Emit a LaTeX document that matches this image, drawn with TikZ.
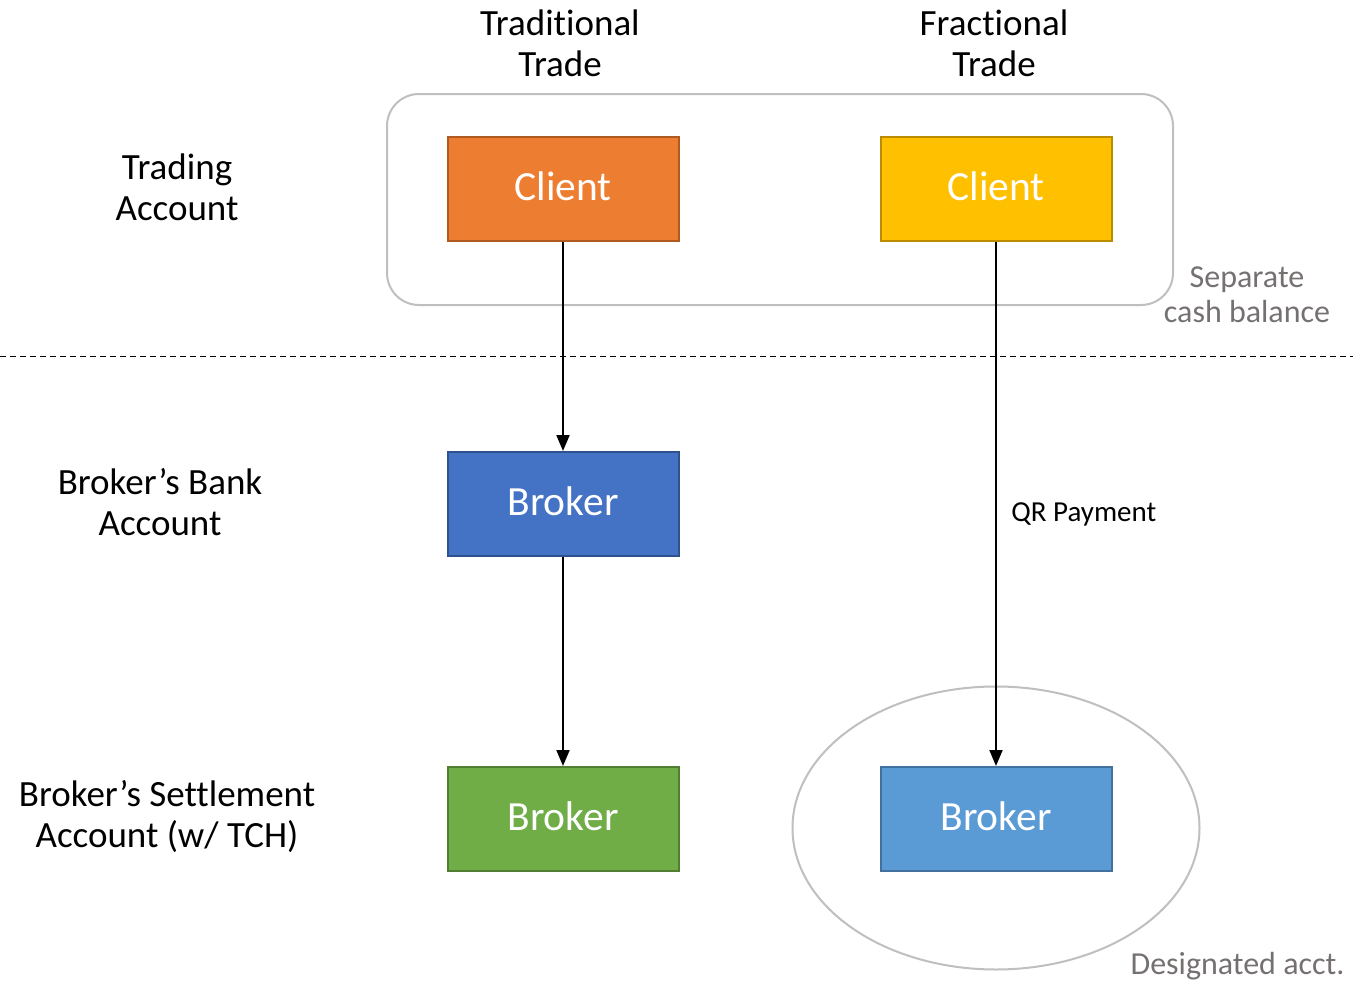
\documentclass[tikz,border=0pt]{standalone}
\usepackage{fontspec}
\setmainfont[Ligatures={NoCommon,NoRare}]{Carlito}
\usetikzlibrary{arrows.meta,shapes.geometric}

\definecolor{clientorange}{HTML}{ED7D31}
\definecolor{clientorangeline}{HTML}{AE5A21}
\definecolor{clientyellow}{HTML}{FFC000}
\definecolor{clientyellowline}{HTML}{BC8C00}
\definecolor{bankblue}{HTML}{4472C4}
\definecolor{bankblueline}{HTML}{2F528F}
\definecolor{settlegreen}{HTML}{70AD47}
\definecolor{settlegreenline}{HTML}{507E32}
\definecolor{desigblue}{HTML}{5B9BD5}
\definecolor{desigblueline}{HTML}{41719C}
\definecolor{framegray}{HTML}{BFBFBF}
\definecolor{notegray}{HTML}{767171}

\tikzset{
  acctbox/.style={draw, line width=2pt, minimum width=231pt, minimum height=104pt,
    inner sep=0pt, text=white, font=\fontsize{41.5}{44}\selectfont},
  rowlabel/.style={align=center, font=\fontsize{37}{41}\selectfont},
  notelabel/.style={align=center, text=notegray, font=\fontsize{32}{35}\selectfont},
  flow/.style={-{Triangle[length=16pt,width=13pt]}, line width=2pt}
}

\begin{document}
\begin{tikzpicture}[x=1pt,y=-1pt]
  \useasboundingbox (0,0) rectangle (1353,985);

  % grouping shapes
  \draw[framegray, line width=2pt, rounded corners=32pt] (387,94) rectangle (1173,305);
  \node[draw=framegray, line width=2pt, ellipse, minimum width=407pt, minimum height=283pt] (desig) at (996,828) {};
  \draw[line width=1pt, dash pattern=on 6pt off 4pt] (0,356) -- (1353,356);

  % column headers
  \node[rowlabel] (trad) at (560,43) {Traditional\\Trade};
  \node[rowlabel] (frac) at (994,43) {Fractional\\Trade};

  % row labels
  \node[rowlabel] (trading) at (177,187) {Trading\\Account};
  \node[rowlabel] (bank) at (160,502) {Broker’s Bank\\Account};
  \node[rowlabel] (settle) at (167,817) {Broker’s Settlement\\Account (w/ TCH)};

  % boxes
  \node[acctbox, fill=clientorange, draw=clientorangeline] (client1) at (563,189) {\raisebox{5pt}{Client}};
  \node[acctbox, fill=clientyellow, draw=clientyellowline] (client2) at (996,189) {\raisebox{5pt}{Client}};
  \node[acctbox, fill=bankblue, draw=bankblueline] (broker1) at (563,504) {\raisebox{5pt}{Broker}};
  \node[acctbox, fill=settlegreen, draw=settlegreenline] (broker2) at (563,819) {\raisebox{5pt}{Broker}};
  \node[acctbox, fill=desigblue, draw=desigblueline] (broker3) at (996,819) {\raisebox{5pt}{Broker}};

  % notes
  \node[notelabel] (sepnote) at (1247,295) {Separate\\cash balance};
  \node[notelabel, anchor=east] (designote) at (1348,966) {Designated acct.};

  % flows
  \draw[flow] (client1) -- (broker1);
  \draw[flow] (broker1) -- (broker2);
  \draw[flow] (client2) -- node[right=11pt, pos=0.52, font=\fontsize{29}{33}\selectfont] (qr) {QR Payment} (broker3);
\end{tikzpicture}
\end{document}
